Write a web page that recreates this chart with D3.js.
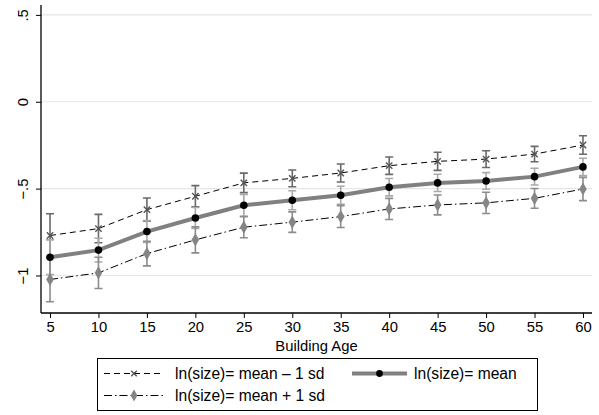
<!DOCTYPE html>
<html><head><meta charset="utf-8">
<script src="https://cdn.jsdelivr.net/npm/d3@7"></script>
<style>body{margin:0;background:#fff}svg{display:block}text{font-family:"Liberation Sans",Arial,sans-serif}</style>
</head><body><svg id="c" width="599" height="415"></svg>
<script>
const ages = [5,10,15,20,25,30,35,40,45,50,55,60];
const lowSize  = [-0.770,-0.730,-0.621,-0.544,-0.467,-0.441,-0.410,-0.368,-0.343,-0.330,-0.301,-0.249];
const lowSizeCI = [0.125,0.082,0.067,0.061,0.056,0.048,0.052,0.050,0.052,0.048,0.044,0.053];
const meanSize = [-0.895,-0.854,-0.747,-0.669,-0.596,-0.567,-0.538,-0.492,-0.467,-0.456,-0.431,-0.375];
const meanSizeCI = [0.10,0.068,0.063,0.060,0.063,0.055,0.052,0.050,0.050,0.048,0.048,0.050];
const highSize = [-1.023,-0.985,-0.874,-0.795,-0.722,-0.693,-0.661,-0.617,-0.594,-0.582,-0.556,-0.502];
const highSizeCI = [0.128,0.090,0.071,0.075,0.061,0.059,0.063,0.061,0.057,0.061,0.057,0.067];
const yTicks = [0.5,0,-0.5,-1];
const yTickLabels = [".5","0","\u2212.5","\u22121"];
const legendLabels = ["ln(size)= mean \u2013 1 sd","ln(size)= mean","ln(size)= mean + 1 sd"];

const FS = 14.8, LFS = 15.6;
const svg = d3.select("#c");
const L=41,R=592,T=5,B=313;
const x = d3.scaleLinear().domain([4.07,60.93]).range([L,R]);
const y = d3.scaleLinear().domain([-1.216,0.557]).range([B,T]);

// gridlines
svg.append("g").selectAll("line").data(yTicks).join("line")
  .attr("x1",L).attr("x2",R).attr("y1",d=>y(d)).attr("y2",d=>y(d))
  .attr("stroke","#e6e6e6").attr("stroke-width",1.2);

// axes
const yAx = svg.append("g").attr("transform",`translate(${L},0)`)
  .call(d3.axisLeft(y).tickValues(yTicks).tickSize(5).tickFormat((d,i)=>yTickLabels[i]));
yAx.select(".domain").attr("d",`M0,${T}V${B}`).attr("stroke","#000").attr("stroke-width",1.3);
yAx.selectAll(".tick line").attr("stroke","#000");
yAx.selectAll(".tick text").attr("font-size",FS).attr("fill","#000")
  .attr("x",0).attr("y",0).attr("dy","0.35em").attr("text-anchor","middle")
  .attr("transform","translate(-18,0) rotate(-90)");

const xAx = svg.append("g").attr("transform",`translate(0,${B})`)
  .call(d3.axisBottom(x).tickValues(ages).tickSize(5));
xAx.select(".domain").attr("d",`M${L},0H${R}`).attr("stroke","#000").attr("stroke-width",1.3);
xAx.selectAll(".tick line").attr("stroke","#000");
xAx.selectAll(".tick text").attr("font-size",FS).attr("fill","#000").attr("y",6).attr("dy","0.85em");

svg.append("text").attr("x",x(32.5)).attr("y",351).attr("text-anchor","middle")
  .attr("font-size",FS).text("Building Age");

const series = [
  {v:lowSize, ci:lowSizeCI, ciColor:"#6a6a6a", line:"#000", lw:1, dash:"6,4", sym:d3.symbolTimes, symSize:28, symFill:"none", symStroke:"#555", symSW:1.4},
  {v:meanSize, ci:meanSizeCI, ciColor:"#a9a9a9", line:"#808080", lw:4, dash:null, sym:d3.symbolCircle, symSize:45, symFill:"#000", symStroke:"none", symSW:0},
  {v:highSize, ci:highSizeCI, ciColor:"#8c8c8c", line:"#000", lw:1, dash:"8,3,1.5,3", sym:d3.symbolDiamond, symSize:50, symFill:"#858585", symStroke:"none", symSW:0}
];

// CIs
series.forEach(s=>{
  const g = svg.append("g").attr("stroke",s.ciColor).attr("stroke-width",1.6).attr("fill","none");
  ages.forEach((a,i)=>{
    const hi=y(s.v[i]+s.ci[i]), lo=y(s.v[i]-s.ci[i]), cx=x(a);
    g.append("path").attr("d",`M${cx},${hi}V${lo}M${cx-4},${hi}H${cx+4}M${cx-4},${lo}H${cx+4}`);
  });
});
// lines
series.forEach(s=>{
  svg.append("path").datum(s.v)
    .attr("d",d3.line().x((d,i)=>x(ages[i])).y(d=>y(d)))
    .attr("fill","none").attr("stroke",s.line).attr("stroke-width",s.lw)
    .attr("stroke-dasharray",s.dash);
});
// markers
series.forEach(s=>{
  svg.append("g").selectAll("path").data(s.v).join("path")
    .attr("transform",(d,i)=>`translate(${x(ages[i])},${y(d)})`)
    .attr("d",d3.symbol().type(s.sym).size(s.symSize))
    .attr("fill",s.symFill).attr("stroke",s.symStroke).attr("stroke-width",s.symSW);
});

// legend
const lg = svg.append("g");
lg.append("rect").attr("x",97.5).attr("y",358.5).attr("width",440).attr("height",52)
  .attr("fill","#fff").attr("stroke","#000").attr("stroke-width",1);
const keys = [{x0:104,x1:164,yy:373.5,s:series[0],tx:175},{x0:352,x1:407,yy:373.5,s:series[1],tx:414},{x0:104,x1:164,yy:395.5,s:series[2],tx:175}];
keys.forEach((k,i)=>{
  lg.append("line").attr("x1",k.x0).attr("x2",k.x1).attr("y1",k.yy).attr("y2",k.yy)
    .attr("stroke",k.s.line).attr("stroke-width",k.s.lw).attr("stroke-dasharray",k.s.dash);
  lg.append("path").attr("transform",`translate(${(k.x0+k.x1)/2},${k.yy})`)
    .attr("d",d3.symbol().type(k.s.sym).size(k.s.symSize*0.8))
    .attr("fill",k.s.symFill).attr("stroke",k.s.symStroke).attr("stroke-width",k.s.symSW);
  lg.append("text").attr("x",k.tx).attr("y",k.yy).attr("dy","0.35em").attr("font-size",LFS).text(legendLabels[i]);
});
</script></body></html>
